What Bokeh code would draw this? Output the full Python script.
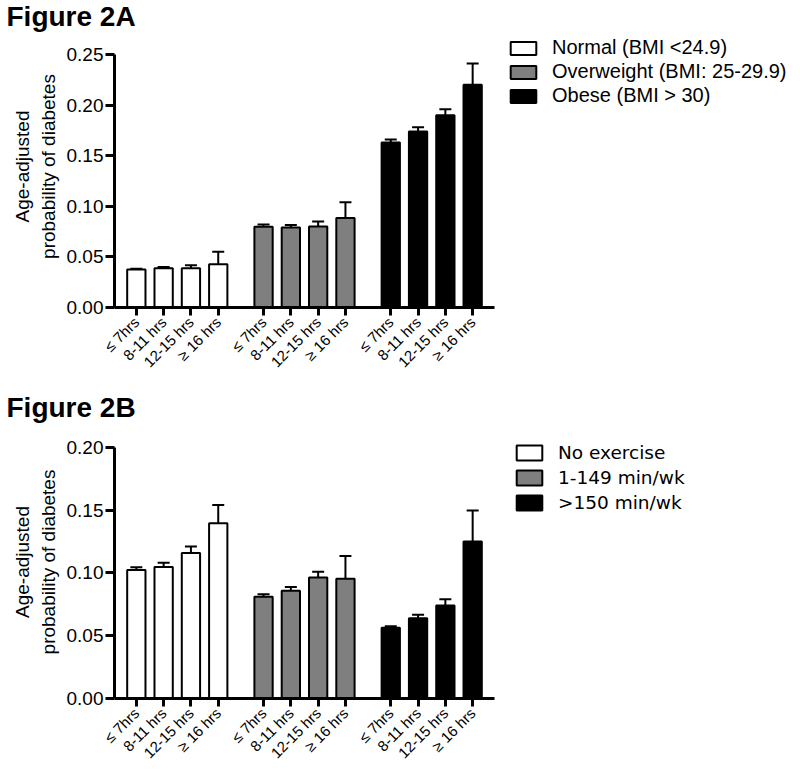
import math
from bokeh.plotting import figure
from bokeh.models import (FactorRange, ColumnDataSource, Whisker, TeeHead, Legend,
                          LegendItem, FixedTicker, PrintfTickFormatter, Range1d)
from bokeh.layouts import column, row
from bokeh.embed import file_html
from bokeh.resources import INLINE

# ---------------- data ----------------
hours = ["≤ 7hrs", "8-11 hrs", "12-15 hrs", "≥ 16 hrs"]

bmi_groups = ["Normal (BMI <24.9)", "Overweight (BMI: 25-29.9)", "Obese (BMI > 30)"]
bmi_normal = [0.0375, 0.0388, 0.0388, 0.0428]
bmi_normal_err = [0.0008, 0.0012, 0.0030, 0.0122]
bmi_over = [0.0799, 0.0790, 0.0800, 0.0885]
bmi_over_err = [0.0021, 0.0026, 0.0050, 0.0155]
bmi_obese = [0.1630, 0.1740, 0.1900, 0.2200]
bmi_obese_err = [0.0030, 0.0040, 0.0060, 0.0210]

ex_groups = ["No exercise", "1-149 min/wk", ">150 min/wk"]
ex_none = [0.1024, 0.1047, 0.1158, 0.1395]
ex_none_err = [0.0021, 0.0033, 0.0052, 0.0145]
ex_mid = [0.0810, 0.0858, 0.0963, 0.0953]
ex_mid_err = [0.0020, 0.0029, 0.0047, 0.0181]
ex_high = [0.0563, 0.0640, 0.0740, 0.1250]
ex_high_err = [0.0013, 0.0026, 0.0050, 0.0247]

ticks_a = [0.0, 0.05, 0.10, 0.15, 0.20, 0.25]
ticks_b = [0.0, 0.05, 0.10, 0.15, 0.20]

fills = ["white", "#7f7f7f", "black"]

FONT = "Liberation Sans"
BL = 114          # left border
FW = 380          # frame width
PW = BL + FW + 2  # plot figure width
LW = 300          # legend figure width


def sources(groups, values, errors):
    out = []
    for g, vals, errs in zip(groups, values, errors):
        out.append(ColumnDataSource(dict(
            x=[(g, h) for h in hours],
            top=vals,
            upper=[v + e for v, e in zip(vals, errs)],
        )))
    return out


def make_panel(title, groups, srcs, ticks, height, frame_top, axis_top,
               frame_bottom, title_standoff):
    factors = [(g, h) for g in groups for h in hours]
    xr = FactorRange(*factors, group_padding=0.66, range_padding=0.3,
                     range_padding_units="absolute")
    # range extended above the top tick so that the legend row lines up
    y_end = ticks[-1] * (frame_bottom - frame_top) / (frame_bottom - axis_top)
    p = figure(width=PW, height=height, x_range=xr, y_range=Range1d(ticks[0], y_end),
               output_backend="svg", toolbar_location=None,
               min_border_left=BL, min_border_right=2,
               min_border_top=frame_top, min_border_bottom=height - frame_bottom)
    p.title.text = title
    p.title.text_font = FONT
    p.title.text_font_size = "28px"
    p.title.text_font_style = "bold"
    p.title.text_color = "black"
    p.title.align = "left"
    p.title.offset = -BL + 6
    p.title.standoff = title_standoff
    p.outline_line_color = None
    p.xgrid.visible = False
    p.ygrid.visible = False

    for src, col in zip(srcs, fills):
        w = Whisker(base="x", lower="top", upper="upper", source=src, dimension="height",
                    line_color="black", line_width=2,
                    upper_head=TeeHead(size=12, line_width=2, line_color="black"),
                    lower_head=None)
        p.add_layout(w)
        p.vbar(x="x", top="top", width=0.67, source=src, fill_color=col,
               line_color="black", line_width=2)

    # y axis
    p.yaxis.ticker = FixedTicker(ticks=ticks)
    p.yaxis.bounds = (ticks[0], ticks[-1])
    p.yaxis.formatter = PrintfTickFormatter(format="%.2f")
    p.yaxis.axis_label = "Age-adjusted\nprobability of diabetes"
    p.yaxis.axis_label_text_font = FONT
    p.yaxis.axis_label_text_font_size = "19px"
    p.yaxis.axis_label_text_font_style = "normal"
    p.yaxis.axis_label_text_color = "black"
    p.yaxis.axis_label_standoff = 5
    p.yaxis.major_label_text_font = FONT
    p.yaxis.major_label_text_font_size = "19px"
    p.yaxis.major_label_standoff = 2
    p.yaxis.minor_tick_line_color = None
    p.yaxis.major_tick_in = 0
    p.yaxis.major_tick_out = 9

    for ax in (p.xaxis, p.yaxis):
        ax.axis_line_width = 3
        ax.axis_line_color = "black"
        ax.major_tick_line_width = 3
        ax.major_tick_line_color = "black"
        ax.major_label_text_color = "black"

    # x axis
    p.xaxis.major_label_orientation = math.pi / 4
    p.xaxis.major_label_text_font = FONT
    p.xaxis.major_label_text_font_size = "15px"
    p.xaxis.major_label_standoff = 4
    p.xaxis.major_tick_in = 0
    p.xaxis.major_tick_out = 8
    p.xaxis.group_text_font_size = "0px"
    p.xaxis.group_text_alpha = 0
    p.xaxis.separator_line_alpha = 0
    return p


def make_legend(groups, srcs, height, frame_top, frame_bottom, font, size, glyph_h,
                spacing, off):
    factors = [(g, h) for g in groups for h in hours]
    lf = figure(width=LW, height=height, x_range=FactorRange(*factors),
                y_range=Range1d(1, 2), output_backend="svg", toolbar_location=None,
                min_border_left=0, min_border_right=0,
                min_border_top=frame_top, min_border_bottom=height - frame_bottom)
    lf.axis.visible = False
    lf.grid.visible = False
    lf.outline_line_color = None
    items = []
    for g, src, col in zip(groups, srcs, fills):
        # hidden renderer: only supplies the legend swatch style
        r = lf.vbar(x="x", top="top", width=0.67, source=src, fill_color=col,
                    line_color="black", line_width=2, visible=False)
        items.append(LegendItem(label=g, renderers=[r]))
    leg = Legend(items=items, location="top_left", padding=0, margin=off,
                 border_line_color=None, background_fill_alpha=0,
                 glyph_width=32, glyph_height=glyph_h, label_height=glyph_h,
                 spacing=spacing, label_standoff=13,
                 label_text_font=font, label_text_font_size=size,
                 label_text_color="black")
    lf.add_layout(leg)
    return lf


src_a = sources(bmi_groups, [bmi_normal, bmi_over, bmi_obese],
                [bmi_normal_err, bmi_over_err, bmi_obese_err])
src_b = sources(ex_groups, [ex_none, ex_mid, ex_high],
                [ex_none_err, ex_mid_err, ex_high_err])

p1 = make_panel("Figure 2A", bmi_groups, src_a, ticks_a, 380, 25, 54, 307, -12)
l1 = make_legend(bmi_groups, src_a, 380, 25, 307, FONT, "20px", 16, 1, 11)
p2 = make_panel("Figure 2B", ex_groups, src_b, ticks_b, 390, 45, 67, 320, 6)
l2 = make_legend(ex_groups, src_b, 390, 45, 320, "DejaVu Sans", "18.5px", 19, 4, 17)

layout = column(row(p1, l1, spacing=0), row(p2, l2, spacing=0), spacing=0)
open("out.html", "w").write(file_html(layout, INLINE))
